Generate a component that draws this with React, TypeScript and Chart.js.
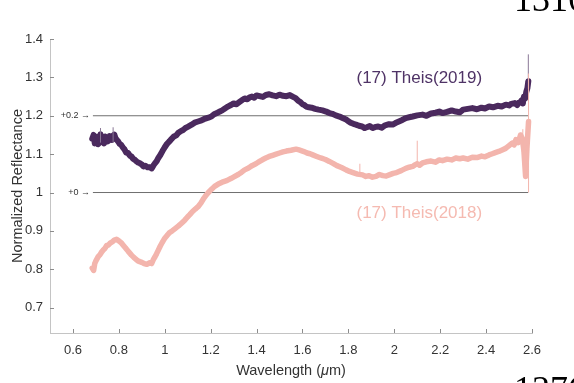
import { useEffect, useRef } from "react";
import { Chart, registerables } from "chart.js";
Chart.register(...registerables);

// ---- data ----
const wl2019 = [0.684,0.69,0.695,0.70,0.705,0.71,0.715,0.72,0.725,0.73,0.735,0.74,0.745,0.75,0.755,0.76,0.765,0.77,0.775,0.78,0.785,0.79,0.797,0.803,0.81,0.818,0.825,0.832,0.84,0.848,0.855,0.862,0.87,0.877,0.884,0.892,0.9,0.907,0.915,0.925,0.935,0.943,0.95,0.957,0.965,0.972,0.98,0.99,1.0,1.01,1.02,1.03,1.04,1.05,1.058,1.07,1.08,1.09,1.1,1.115,1.13,1.145,1.16,1.17,1.18,1.19,1.203,1.215,1.23,1.24,1.25,1.262,1.275,1.288,1.3,1.313,1.326,1.337,1.348,1.36,1.37,1.38,1.39,1.40,1.413,1.427,1.44,1.455,1.47,1.485,1.5,1.515,1.53,1.545,1.557,1.57,1.58,1.59,1.6,1.608,1.616,1.628,1.64,1.655,1.67,1.687,1.703,1.717,1.73,1.745,1.761,1.775,1.79,1.80,1.81,1.822,1.833,1.846,1.86,1.87,1.88,1.893,1.906,1.918,1.93,1.945,1.96,1.977,1.993,2.005,2.02,2.035,2.05,2.065,2.08,2.1,2.123,2.14,2.16,2.18,2.196,2.21,2.23,2.25,2.268,2.285,2.3,2.32,2.34,2.36,2.38,2.395,2.413,2.43,2.45,2.468,2.486,2.5,2.51,2.525,2.535,2.543,2.55,2.555,2.56,2.565,2.57,2.575,2.58,2.584];
const refl2019 = [1.140,1.150,1.128,1.138,1.145,1.126,1.132,1.152,1.140,1.131,1.128,1.146,1.142,1.133,1.135,1.147,1.146,1.137,1.148,1.151,1.142,1.138,1.133,1.127,1.124,1.117,1.112,1.104,1.103,1.096,1.094,1.088,1.085,1.081,1.078,1.076,1.073,1.068,1.070,1.066,1.066,1.063,1.070,1.076,1.082,1.090,1.097,1.108,1.118,1.127,1.133,1.140,1.146,1.149,1.155,1.160,1.163,1.168,1.171,1.176,1.182,1.185,1.188,1.191,1.193,1.195,1.198,1.204,1.208,1.211,1.214,1.219,1.224,1.228,1.232,1.230,1.236,1.241,1.245,1.243,1.248,1.250,1.247,1.253,1.251,1.249,1.254,1.256,1.253,1.251,1.255,1.252,1.251,1.254,1.250,1.246,1.240,1.236,1.230,1.228,1.224,1.222,1.221,1.218,1.216,1.214,1.211,1.207,1.205,1.201,1.198,1.194,1.190,1.186,1.182,1.179,1.177,1.174,1.172,1.168,1.170,1.173,1.168,1.171,1.172,1.169,1.175,1.178,1.177,1.181,1.185,1.189,1.194,1.196,1.198,1.201,1.203,1.200,1.206,1.208,1.211,1.207,1.210,1.214,1.211,1.209,1.216,1.218,1.220,1.217,1.221,1.219,1.224,1.222,1.226,1.224,1.229,1.227,1.231,1.233,1.228,1.234,1.236,1.240,1.232,1.250,1.245,1.262,1.272,1.290,1.316];
const wl2018 = [0.684,0.69,0.695,0.70,0.71,0.718,0.725,0.733,0.74,0.747,0.754,0.762,0.77,0.78,0.79,0.8,0.812,0.82,0.83,0.842,0.855,0.865,0.875,0.883,0.891,0.9,0.91,0.922,0.935,0.943,0.95,0.957,0.964,0.972,0.98,0.99,1.0,1.01,1.02,1.032,1.045,1.06,1.073,1.087,1.1,1.11,1.12,1.133,1.145,1.158,1.17,1.18,1.19,1.203,1.217,1.233,1.25,1.27,1.29,1.305,1.32,1.335,1.348,1.365,1.38,1.397,1.413,1.427,1.44,1.455,1.47,1.485,1.5,1.515,1.53,1.55,1.572,1.585,1.6,1.61,1.62,1.633,1.645,1.662,1.68,1.7,1.717,1.733,1.75,1.77,1.79,1.805,1.82,1.84,1.862,1.876,1.89,1.905,1.92,1.935,1.95,1.965,1.978,1.995,2.01,2.03,2.05,2.065,2.08,2.09,2.1,2.11,2.123,2.14,2.16,2.18,2.196,2.21,2.23,2.25,2.268,2.285,2.3,2.32,2.34,2.36,2.38,2.395,2.413,2.427,2.44,2.455,2.47,2.485,2.5,2.514,2.522,2.53,2.54,2.55,2.558,2.565,2.572,2.578,2.585];
const refl2018 = [0.803,0.797,0.815,0.822,0.833,0.838,0.845,0.851,0.855,0.862,0.863,0.868,0.871,0.876,0.878,0.874,0.868,0.862,0.855,0.846,0.837,0.831,0.826,0.822,0.820,0.818,0.815,0.813,0.817,0.815,0.825,0.832,0.840,0.850,0.860,0.871,0.881,0.888,0.895,0.900,0.906,0.913,0.920,0.928,0.937,0.943,0.950,0.957,0.963,0.973,0.985,0.993,1.000,1.008,1.016,1.022,1.027,1.031,1.037,1.042,1.047,1.053,1.059,1.064,1.070,1.075,1.081,1.086,1.090,1.094,1.097,1.100,1.103,1.106,1.108,1.110,1.113,1.111,1.108,1.106,1.103,1.101,1.098,1.094,1.090,1.086,1.081,1.076,1.070,1.065,1.059,1.055,1.052,1.048,1.046,1.042,1.044,1.040,1.042,1.047,1.044,1.043,1.046,1.050,1.052,1.057,1.063,1.066,1.068,1.072,1.075,1.071,1.077,1.080,1.082,1.079,1.085,1.083,1.087,1.085,1.090,1.088,1.090,1.087,1.092,1.091,1.095,1.093,1.098,1.101,1.104,1.107,1.111,1.115,1.122,1.129,1.124,1.138,1.130,1.150,1.140,1.107,1.042,1.116,1.185];

// error bars: [wavelength, low, high]
const errBars2019 = [[0.72, 1.13, 1.168], [0.775, 1.13, 1.17], [2.584, 1.27, 1.36]];
const errBars2018 = [[1.85, 1.045, 1.075], [2.1, 1.07, 1.135], [2.56, 1.10, 1.165], [2.585, 1.0, 1.31]];

const xTicks = [0.6, 0.8, 1.0, 1.2, 1.4, 1.6, 1.8, 2.0, 2.2, 2.4, 2.6];
const yTicks = [0.7, 0.8, 0.9, 1.0, 1.1, 1.2, 1.3, 1.4];
const offsetLevels = [1.2, 1.0];
const offsetLabels = ["+0.2 →", "+0 →"];
const offsetLineRange = [0.687, 2.583];
const seriesNames = ["(17) Theis(2019)", "(17) Theis(2018)"];
const seriesLabelPos = [[2.109, 1.2965], [2.109, 0.947]];
const xTitleParts = ["Wavelength (", "μ", "m)"];
const yTitle = "Normalized Reflectance";

const PURPLE = "#4b2a5e";
const PINK = "#f3b5ad";
const FONT = "'Liberation Sans', Arial, sans-serif";

function errSegments(bars: number[][]) {
  const pts: any[] = [];
  bars.forEach(([x, lo, hi]) => {
    pts.push({ x, y: lo }, { x, y: hi }, { x, y: null });
  });
  return pts;
}

const annotPlugin = {
  id: "annot",
  afterDraw(chart: any) {
    const ctx = chart.ctx;
    const xs = chart.scales.x;
    const ys = chart.scales.y;
    const area = chart.chartArea;
    ctx.save();
    // inward ticks
    ctx.strokeStyle = "#8c8c8c";
    ctx.lineWidth = 1;
    ctx.beginPath();
    yTicks.forEach((v) => {
      const py = Math.round(ys.getPixelForValue(v)) + 0.5;
      ctx.moveTo(area.left, py);
      ctx.lineTo(area.left + 4, py);
    });
    xTicks.forEach((v) => {
      const px = Math.round(xs.getPixelForValue(v)) + 0.5;
      ctx.moveTo(px, area.bottom);
      ctx.lineTo(px, area.bottom - 4);
    });
    ctx.stroke();
    // offset labels
    ctx.fillStyle = "#333";
    ctx.font = `9px ${FONT}`;
    ctx.textAlign = "right";
    ctx.textBaseline = "middle";
    offsetLevels.forEach((lv, i) => {
      ctx.fillText(offsetLabels[i], xs.getPixelForValue(offsetLineRange[0]) - 3, ys.getPixelForValue(lv));
    });
    // series labels
    ctx.font = `17px ${FONT}`;
    ctx.textAlign = "center";
    seriesNames.forEach((name, i) => {
      ctx.fillStyle = i === 0 ? "#4f3366" : "#f5bab1";
      ctx.fillText(name, xs.getPixelForValue(seriesLabelPos[i][0]), ys.getPixelForValue(seriesLabelPos[i][1]));
    });
    // x title with italic mu
    const fN = `14.5px ${FONT}`;
    const fI = `italic 14.5px ${FONT}`;
    ctx.font = fN;
    const w0 = ctx.measureText(xTitleParts[0]).width;
    const w2 = ctx.measureText(xTitleParts[2]).width;
    ctx.font = fI;
    const w1 = ctx.measureText(xTitleParts[1]).width;
    const total = w0 + w1 + w2;
    const x0 = (area.left + area.right) / 2 - total / 2;
    const ty = area.bottom + 38;
    ctx.fillStyle = "#333";
    ctx.textAlign = "left";
    ctx.textBaseline = "middle";
    ctx.font = fN;
    ctx.fillText(xTitleParts[0], x0, ty);
    ctx.font = fI;
    ctx.fillText(xTitleParts[1], x0 + w0, ty);
    ctx.font = fN;
    ctx.fillText(xTitleParts[2], x0 + w0 + w1, ty);
    ctx.restore();
  },
};

export default function App() {
  const ref = useRef<HTMLCanvasElement>(null);
  useEffect(() => {
    if (!ref.current) return;
    const pts2019 = wl2019.map((x, i) => ({ x, y: refl2019[i] }));
    const pts2018 = wl2018.map((x, i) => ({ x, y: refl2018[i] }));
    const fmt = (v: any) => String(Number(Number(v).toFixed(1)));
    const chart = new Chart(ref.current, {
      type: "line",
      data: {
        datasets: [
          { data: errSegments(errBars2018) as any, borderColor: PINK, borderWidth: 1, pointRadius: 0, spanGaps: false },
          { data: pts2018 as any, borderColor: PINK, backgroundColor: PINK, borderWidth: 5.5, borderJoinStyle: "round", borderCapStyle: "round", pointRadius: 2.2, pointBorderWidth: 0 },
          { data: errSegments(errBars2019) as any, borderColor: "#8a7796", borderWidth: 1, pointRadius: 0, spanGaps: false },
          { data: pts2019 as any, borderColor: PURPLE, backgroundColor: PURPLE, borderWidth: 6, borderJoinStyle: "round", borderCapStyle: "round", pointRadius: 2.4, pointBorderWidth: 0 },
          ...offsetLevels.map((lv) => ({
            data: [{ x: offsetLineRange[0], y: lv }, { x: offsetLineRange[1], y: lv }] as any,
            borderColor: "#6f6f6f",
            borderWidth: 1,
            pointRadius: 0,
          })),
        ],
      },
      options: {
        responsive: false,
        animation: false,
        layout: { padding: { top: 39, right: 42, left: 0, bottom: 0 } },
        plugins: { legend: { display: false }, tooltip: { enabled: false } },
        elements: { line: { tension: 0 } },
        scales: {
          x: {
            type: "linear",
            min: 0.5,
            max: 2.6,
            afterFit: (s: any) => { s.height = 50; },
            afterBuildTicks: (s: any) => { s.ticks = xTicks.map((v) => ({ value: v })); },
            ticks: { callback: fmt, color: "#333", font: { family: FONT, size: 13 }, padding: 10, maxRotation: 0, autoSkip: false },
            grid: { display: true, drawOnChartArea: false, drawTicks: false },
            border: { display: true, color: "#c4c4c4", width: 1 },
          },
          y: {
            type: "linear",
            min: 0.634,
            max: 1.4,
            afterFit: (s: any) => { s.width = 50; },
            afterBuildTicks: (s: any) => { s.ticks = yTicks.map((v) => ({ value: v })); },
            ticks: { callback: fmt, color: "#333", font: { family: FONT, size: 13 }, padding: 7, autoSkip: false },
            grid: { display: true, drawOnChartArea: false, drawTicks: false },
            border: { display: true, color: "#c4c4c4", width: 1 },
            title: { display: true, text: yTitle, color: "#333", font: { family: FONT, size: 14.5 }, padding: { top: 9, bottom: 0 } },
          },
        },
      },
      plugins: [annotPlugin],
    });
    return () => chart.destroy();
  }, []);
  return (
    <div style={{ position: "absolute", left: 0, top: 0, width: 574, height: 383, overflow: "hidden", background: "#fff" }}>
      <canvas ref={ref} width={574} height={383} style={{ display: "block" }} />
      <div style={{ position: "absolute", left: 514, top: -19, fontFamily: "'Liberation Serif', serif", fontSize: 36, lineHeight: "36px", whiteSpace: "nowrap", color: "#000" }}>1316</div>
      <div style={{ position: "absolute", left: 514, top: 371, fontFamily: "'Liberation Serif', serif", fontSize: 36, lineHeight: "36px", whiteSpace: "nowrap", color: "#000" }}>1376</div>
    </div>
  );
}
